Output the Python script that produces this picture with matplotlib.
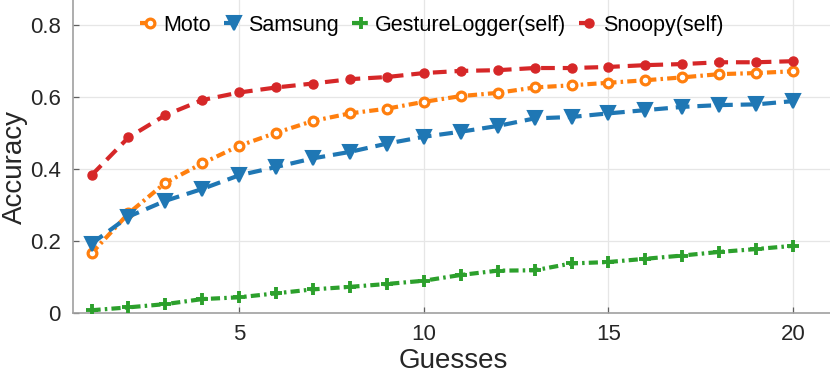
import matplotlib

matplotlib.use("Agg")
import matplotlib.pyplot as plt
import numpy as np

# Accuracy per number of guesses.
guesses = list(range(1, 21))
moto = [0.166, 0.277, 0.362, 0.416, 0.465, 0.501, 0.534, 0.555, 0.568, 0.587,
        0.603, 0.612, 0.627, 0.633, 0.640, 0.647, 0.655, 0.664, 0.667, 0.672]
samsung = [0.193, 0.268, 0.312, 0.345, 0.383, 0.406, 0.430, 0.448, 0.471, 0.490,
           0.504, 0.520, 0.541, 0.545, 0.555, 0.564, 0.573, 0.578, 0.580, 0.589]
gesture_logger = [0.008, 0.016, 0.025, 0.039, 0.044, 0.055, 0.066, 0.073, 0.081, 0.090,
                  0.106, 0.118, 0.119, 0.138, 0.142, 0.151, 0.160, 0.170, 0.178, 0.187]
snoopy = [0.383, 0.488, 0.550, 0.592, 0.613, 0.627, 0.638, 0.650, 0.656, 0.667,
          0.673, 0.675, 0.681, 0.681, 0.684, 0.689, 0.692, 0.697, 0.697, 0.700]

x_ticks = [5, 10, 15, 20]
y_ticks = [0, 0.2, 0.4, 0.6, 0.8]

plt.rcParams["font.family"] = ["Liberation Sans", "DejaVu Sans"]

fig = plt.figure(figsize=(8.3, 3.75), dpi=100)
ax = fig.add_axes([0.088, 0.165, 0.912, 0.835])

# MATLAB-like dash patterns (in units of line width)
dash_dot = (0, (2.2, 1.0, 0.6, 1.0))
dashed = (0, (3.3, 1.9))

lw = 3.0
ax.plot(guesses, moto, color="#ff7f0e", linestyle=dash_dot, lw=lw,
        marker="o", ms=6.3, mfc="white", mew=2.3, label="Moto", zorder=3)
ax.plot(guesses, samsung, color="#1f77b4", linestyle=dashed, lw=lw,
        marker="v", ms=9.5, mfc="#1f77b4", mew=1.5, label="Samsung", zorder=3)
ax.plot(guesses, gesture_logger, color="#2ca02c", linestyle=dash_dot, lw=lw,
        marker="+", ms=8, mew=2.8, label="GestureLogger(self)", zorder=3)
ax.plot(guesses, snoopy, color="#d62728", linestyle=dashed, lw=lw,
        marker=".", ms=13, label="Snoopy(self)", zorder=3)

ax.set_xlim(0.5, 21)
ax.set_ylim(0, 0.87)
ax.set_xticks(x_ticks)
ax.set_yticks(y_ticks)
ax.set_yticklabels(["0", "0.2", "0.4", "0.6", "0.8"])

ax.grid(True, color="#e6e6e6", linewidth=0.9)
ax.set_axisbelow(True)
for side in ["top", "right"]:
    ax.spines[side].set_visible(False)
for side in ["left", "bottom"]:
    ax.spines[side].set_color("#a0a0a0")
    ax.spines[side].set_linewidth(1.2)

ax.tick_params(direction="in", length=4, width=0.9, color="#606060",
               labelsize=16, labelcolor="#262626")
ax.tick_params(axis="y", pad=9)
ax.tick_params(axis="x", pad=8)
ax.set_xlabel("Guesses", fontsize=20, color="#262626")
ax.set_ylabel("Accuracy", fontsize=20, color="#262626")
ax.xaxis.set_label_coords(0.502, -0.112)
ax.yaxis.set_label_coords(-0.059, 0.466)

ax.legend(loc="center", bbox_to_anchor=(0.474, 0.92), ncol=4, frameon=False,
          fontsize=15.5, handlelength=0.9, handletextpad=0.2, columnspacing=0.6,
          numpoints=1, borderaxespad=0.0, borderpad=0.0)

fig.savefig("out.png", dpi=100)
